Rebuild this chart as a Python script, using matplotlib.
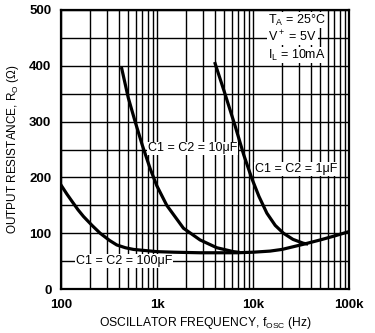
import matplotlib
matplotlib.use('Agg')
from matplotlib import pyplot as plt
from matplotlib.ticker import FixedLocator, LogLocator, NullFormatter

# values
f_100 = [100, 115, 130, 150, 171, 210, 255, 320, 380, 467, 567, 750, 993, 1500, 2800, 4500, 6800, 10000, 15000, 20000, 33000, 50000, 70000, 100000]
r_100 = [186, 170, 157, 142, 130, 114, 100, 87, 79, 74, 71, 69, 67, 66, 65, 65, 65, 66, 68, 71, 80, 88, 95, 103]

f_10 = [428, 500, 590, 700, 845, 993, 1260, 1880, 2800, 4190, 6240, 7000]
r_10 = [395, 343, 300, 258, 216, 185, 150, 109, 88, 74, 67, 66]

f_1 = [4020, 5000, 6500, 8000, 9700, 11500, 13900, 17000, 20700, 26000, 33400, 36000]
r_1 = [404, 354, 292, 240, 198, 166, 136, 114, 100, 89, 82, 81]

x_ticks = [100, 1000, 10000, 100000]
x_labels = ['100', '1k', '10k', '100k']
y_ticks = [0, 100, 200, 300, 400, 500]

plt.rcParams['font.family'] = ['Liberation Sans', 'DejaVu Sans']

fig = plt.figure(figsize=(3.75, 3.33), dpi=100)
ax = fig.add_axes([0.163, 0.132, 0.768, 0.838])

ax.set_xscale('log')
ax.set_xlim(100, 100000)
ax.set_ylim(0, 500)

ax.xaxis.set_minor_locator(LogLocator(base=10, subs=range(2, 10)))
ax.xaxis.set_minor_formatter(NullFormatter())
ax.set_xticks(x_ticks)
ax.set_xticklabels(x_labels)
ax.set_yticks(y_ticks)
ax.yaxis.set_minor_locator(FixedLocator(range(50, 500, 100)))

ax.grid(True, which='both', color='k', linewidth=1.0)
ax.tick_params(which='both', length=0, labelsize=9.5, pad=7)
for lbl in ax.get_xticklabels() + ax.get_yticklabels():
    lbl.set_fontweight('bold')
for s in ax.spines.values():
    s.set_linewidth(1.6)

ax.plot(f_100, r_100, color='k', linewidth=2.3, zorder=3)
ax.plot(f_10, r_10, color='k', linewidth=2.3, zorder=3)
ax.plot(f_1, r_1, color='k', linewidth=2.3, zorder=3)

box = dict(facecolor='white', edgecolor='none', pad=0.5)
fs = 9
ax.text(2320, 252, 'C1 = C2 = 10\u03bcF', ha='center', va='center', fontsize=fs, bbox=box, zorder=4)
ax.text(28000, 215, 'C1 = C2 = 1\u03bcF', ha='center', va='center', fontsize=fs, bbox=box, zorder=4)
ax.text(453, 50, 'C1 = C2 = 100\u03bcF', ha='center', va='center', fontsize=fs, bbox=box, zorder=4)

ax.text(14300, 482, '$\\mathregular{T_A}$ = 25\u00b0C', ha='left', va='center', fontsize=fs, bbox=box, zorder=4)
ax.text(14300, 452, 'V$\\mathregular{^+}$ = 5V', ha='left', va='center', fontsize=fs, bbox=box, zorder=4)
ax.text(14300, 419, '$\\mathregular{I_L}$ = 10mA', ha='left', va='center', fontsize=fs, bbox=box, zorder=4)

ax.set_xlabel('OSCILLATOR FREQUENCY, $\\mathregular{f_{OSC}}$ (Hz)', fontsize=8.7, labelpad=3)
ax.set_ylabel('OUTPUT RESISTANCE, $\\mathregular{R_O}$ (\u03a9)', fontsize=8.5, labelpad=6)

fig.savefig('out.png', dpi=100)
